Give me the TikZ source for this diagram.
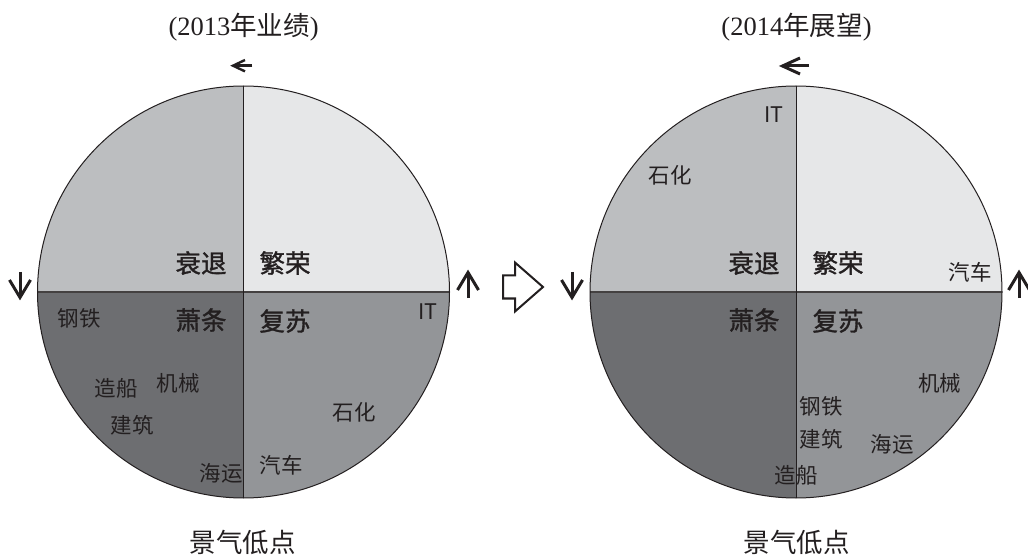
\documentclass[tikz,border=0pt]{standalone}
\usepackage{fontspec}
\usetikzlibrary{calc}
\setmainfont{Liberation Serif}
\newfontfamily\cjk{Noto Sans CJK SC}
\newfontfamily\cjkmed[FakeBold=1.3]{Noto Sans CJK SC}
\definecolor{qTL}{HTML}{BCBEC0}
\definecolor{qTR}{HTML}{E6E7E8}
\definecolor{qBL}{HTML}{6D6E71}
\definecolor{qBR}{HTML}{939598}
\definecolor{ink}{HTML}{231F20}
\tikzset{
  phase/.style={inner sep=0pt, text=ink, font=\cjkmed\fontsize{25.5}{26}\selectfont},
  ind/.style={inner sep=0pt, text=ink, font=\cjk\fontsize{21.5}{22}\selectfont},
  ttl/.style={inner sep=0pt, text=ink, font=\fontsize{26.5}{27}\selectfont},
  bot/.style={inner sep=0pt, text=ink, font=\cjk\fontsize{26.5}{27}\selectfont},
  outline/.style={draw=ink, line width=1pt},
  hline/.style={draw=ink!85, line width=2pt},
  stick/.style={draw=ink, line width=3pt, line join=miter, line cap=butt},
  thinstick/.style={draw=ink, line width=2.4pt, line join=miter, line cap=butt},
}
\begin{document}
\begin{tikzpicture}[x=1pt,y=1pt]
\useasboundingbox (0,0) rectangle (1028,555);
\fill[white] (0,0) rectangle (1028,555);
% ---------- left circle ----------
\coordinate (L) at (243.5,263);
\fill[qTL] (L) -- ++(90:206) arc[start angle=90,end angle=180,radius=206] -- cycle;
\fill[qTR] (L) -- ++(0:206) arc[start angle=0,end angle=90,radius=206] -- cycle;
\fill[qBL] (L) -- ++(180:206) arc[start angle=180,end angle=270,radius=206] -- cycle;
\fill[qBR] (L) -- ++(270:206) arc[start angle=270,end angle=360,radius=206] -- cycle;
\draw[hline] ($(L)+(-206,0)$) -- ($(L)+(206,0)$);
\draw[outline] ($(L)+(0,206)$) -- ($(L)+(0,-206)$);
\draw[outline] (L) circle[radius=206];
% ---------- right circle ----------
\coordinate (R) at (796,263);
\fill[qTL] (R) -- ++(90:206) arc[start angle=90,end angle=180,radius=206] -- cycle;
\fill[qTR] (R) -- ++(0:206) arc[start angle=0,end angle=90,radius=206] -- cycle;
\fill[qBL] (R) -- ++(180:206) arc[start angle=180,end angle=270,radius=206] -- cycle;
\fill[qBR] (R) -- ++(270:206) arc[start angle=270,end angle=360,radius=206] -- cycle;
\draw[hline] ($(R)+(-206,0)$) -- ($(R)+(206,0)$);
\draw[outline] ($(R)+(0,206)$) -- ($(R)+(0,-206)$);
\draw[outline] (R) circle[radius=206];
% ---------- left labels ----------
\node[ttl] (t1) at (243.7,528) {(2013{\cjk 年业绩})};
\node[phase] (l1) at (201,292) {衰退};
\node[phase] (l2) at (285,292) {繁荣};
\node[phase] (l3) at (201,235) {萧条};
\node[phase] (l4) at (285,234) {复苏};
\node[ind] (l5) at (79,237) {钢铁};
\node[ind] (l6) at (428,243) {IT};
\node[ind] (l7) at (116,167) {造船};
\node[ind] (l8) at (178,172) {机械};
\node[ind] (l9) at (132,130) {建筑};
\node[ind] (l10) at (354,143) {石化};
\node[ind] (l11) at (221,82) {海运};
\node[ind] (l12) at (281,90) {汽车};
\node[bot] (b1) at (242.5,13) {景气低点};
% ---------- right labels ----------
\node[ttl] (t2) at (796.5,528) {(2014{\cjk 年展望})};
\node[ind] (r0) at (774,440) {IT};
\node[ind] (r1) at (670,380) {石化};
\node[phase] (r2) at (754,292) {衰退};
\node[phase] (r3) at (838,292) {繁荣};
\node[ind] (r4) at (970,283) {汽车};
\node[phase] (r5) at (754,235) {萧条};
\node[phase] (r6) at (838,234) {复苏};
\node[ind] (r7) at (939.5,172) {机械};
\node[ind] (r8) at (821,149) {钢铁};
\node[ind] (r9) at (821,116) {建筑};
\node[ind] (r10) at (892,111) {海运};
\node[ind] (r11) at (796,80) {造船};
\node[bot] (b2) at (796.5,13) {景气低点};
% ---------- direction arrows ----------
% left circle
\draw[thinstick] (252.3,489.3) -- (233.5,489.3);
\draw[thinstick] (245,495) -- (233,489.3) -- (245,483.6);
\draw[stick] (20,283) -- (20,258);
\draw[stick] (9.5,275) -- (20,257.5) -- (30.5,275);
\draw[stick] (468,257) -- (468,282);
\draw[stick] (457.5,265) -- (468,282.5) -- (478.5,265);
% right circle
\draw[stick] (809,489) -- (783,489);
\draw[stick] (800,497) -- (782.5,489) -- (800,481);
\draw[stick] (572,283) -- (572,258);
\draw[stick] (561.5,275) -- (572,257.5) -- (582.5,275);
\draw[stick] (1019,257) -- (1019,282);
\draw[stick] (1008.5,265) -- (1019,282.5) -- (1029.5,265);
% ---------- block arrow ----------
\draw[draw=ink, line width=2pt, fill=white, line join=miter]
  (503,279.5) -- (515,279.5) -- (515,292.5) -- (543,268) -- (515,243.5) -- (515,256.5) -- (503,256.5) -- cycle;
\end{tikzpicture}
\end{document}
